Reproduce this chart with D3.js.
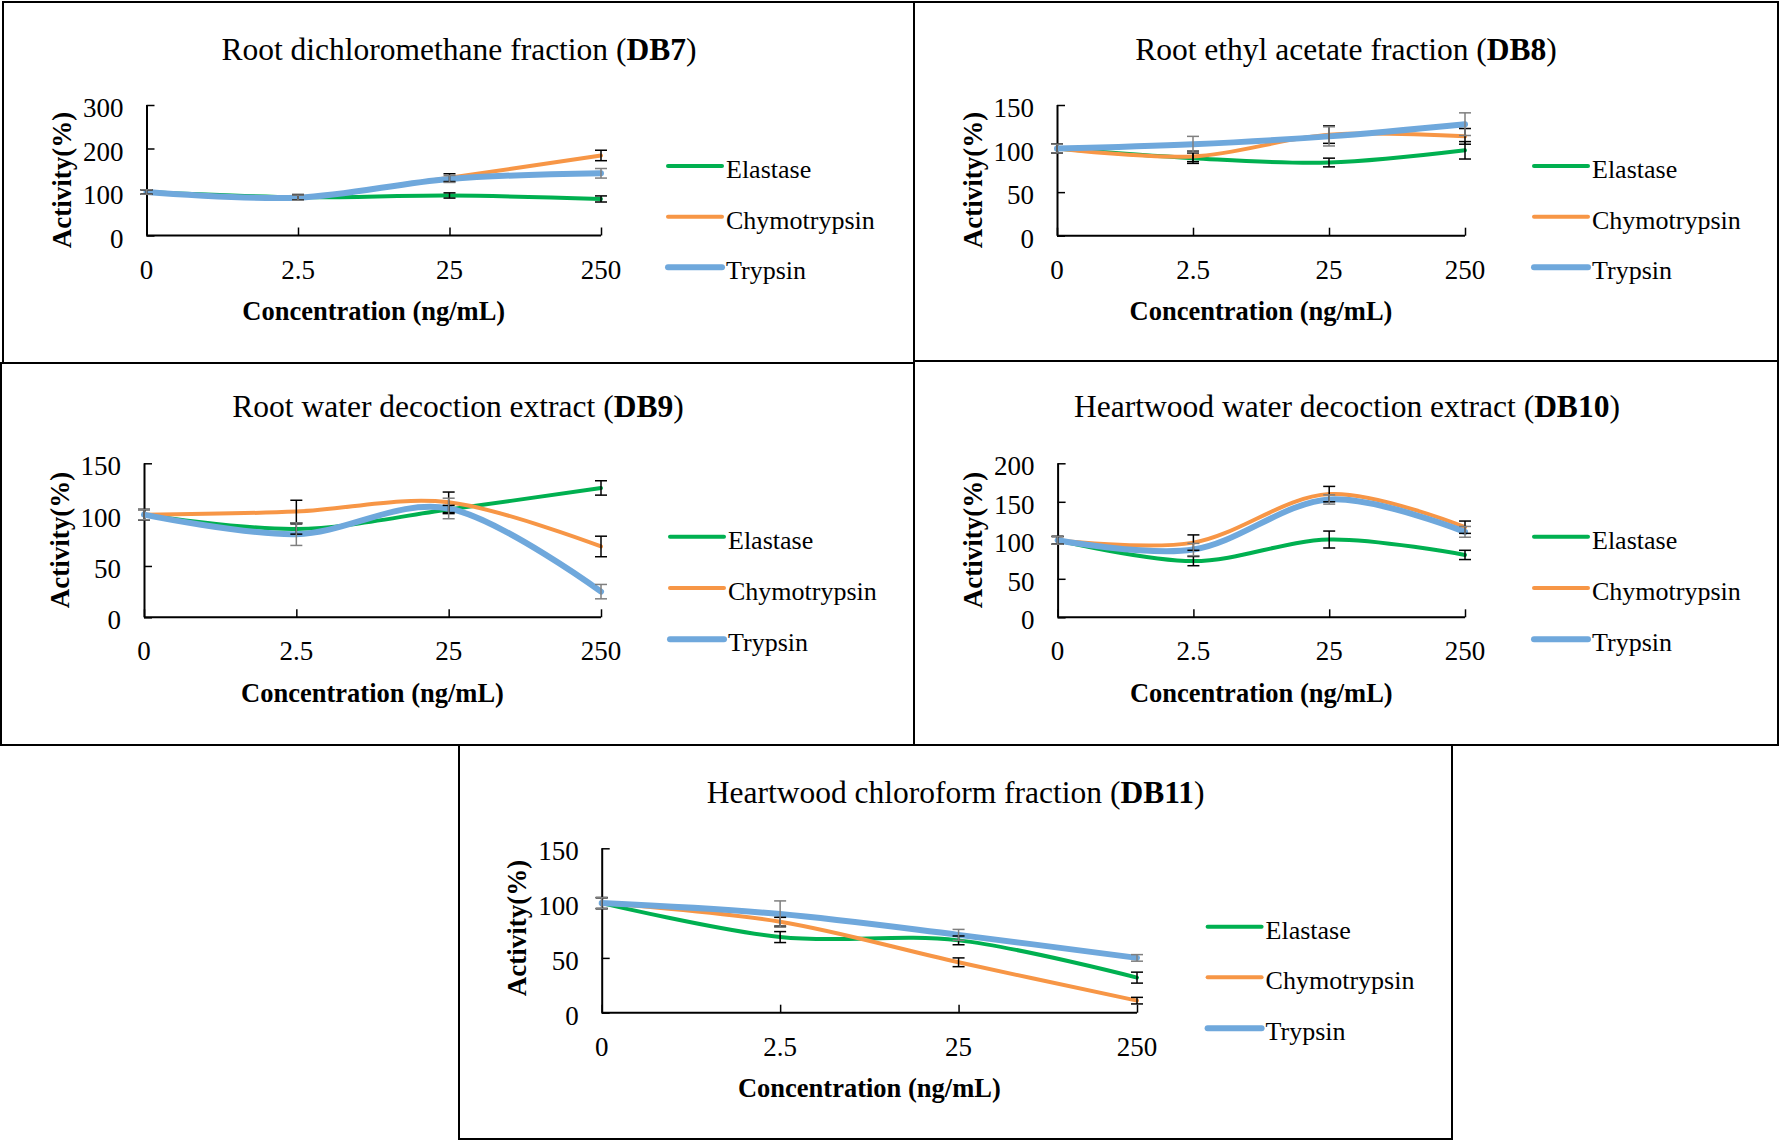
<!DOCTYPE html>
<html>
<head>
<meta charset="utf-8">
<script src="https://cdn.jsdelivr.net/npm/d3@7/dist/d3.min.js"></script>
<style>
  html, body { margin: 0; padding: 0; background: #fff; }
  svg { display: block; }
  text { font-family: "Liberation Serif", "Times New Roman", serif; fill: #000; }
</style>
</head>
<body>
<svg id="chart" width="1780" height="1141"></svg>
<script>
// ---------------- data ----------------
const concentrations = ["0", "2.5", "25", "250"];
const seriesNames = ["Elastase", "Chymotrypsin", "Trypsin"];

const panelTitles = [
  "Root dichloromethane fraction",
  "Root ethyl acetate fraction",
  "Root water decoction extract",
  "Heartwood water decoction extract",
  "Heartwood chloroform fraction"
];
const panelCodes = ["DB7", "DB8", "DB9", "DB10", "DB11"];
const xAxisTitle = "Concentration (ng/mL)";
const yAxisTitle = "Activity(%)";

const yTicksDB7 = [0, 100, 200, 300];
const yTicksDB8 = [0, 50, 100, 150];
const yTicksDB9 = [0, 50, 100, 150];
const yTicksDB10 = [0, 50, 100, 150, 200];
const yTicksDB11 = [0, 50, 100, 150];

// values (activity %) per series: Elastase, Chymotrypsin, Trypsin
const elastaseDB7 = [100, 88, 92, 84];
const chymotrypsinDB7 = [100, 88, 133, 184];
const trypsinDB7 = [100, 87, 130, 143];
const elastaseErrDB7 = [5, 6, 6, 7];
const chymotrypsinErrDB7 = [5, 6, 9, 12];
const trypsinErrDB7 = [5, 6, 8, 11];

const elastaseDB8 = [100, 89, 84, 98];
const chymotrypsinDB8 = [100, 91, 116, 114];
const trypsinDB8 = [100, 105, 114, 128];
const elastaseErrDB8 = [5, 6, 5, 10];
const chymotrypsinErrDB8 = [5, 6, 10, 9];
const trypsinErrDB8 = [5, 9, 11, 13];

const elastaseDB9 = [100, 86, 105, 126];
const chymotrypsinDB9 = [100, 103, 112, 69];
const trypsinDB9 = [100, 81, 106, 25];
const elastaseErrDB9 = [5, 5, 4, 7];
const chymotrypsinErrDB9 = [5, 11, 10, 10];
const trypsinErrDB9 = [5, 11, 10, 7];

const elastaseDB10 = [100, 73, 101, 81];
const chymotrypsinDB10 = [100, 97, 160, 117];
const trypsinDB10 = [100, 88, 153, 111];
const elastaseErrDB10 = [5, 6, 11, 6];
const chymotrypsinErrDB10 = [5, 10, 10, 8];
const trypsinErrDB10 = [5, 8, 6, 7];

const elastaseDB11 = [100, 69, 66, 32];
const chymotrypsinDB11 = [100, 83, 46, 11];
const trypsinDB11 = [100, 90, 71, 50];
const elastaseErrDB11 = [5, 5, 4, 5];
const chymotrypsinErrDB11 = [5, 4, 4, 3];
const trypsinErrDB11 = [5, 12, 5, 3];

// ---------------- styles ----------------
const seriesColors = ["#00b050", "#f79646", "#6fa8dc"];
const seriesWidths = [4, 4, 6];
const errColors = ["#000000", "#000000", "#7f7f7f"];

const panelData = [
  { yTicks: yTicksDB7, vals: [elastaseDB7, chymotrypsinDB7, trypsinDB7], errs: [elastaseErrDB7, chymotrypsinErrDB7, trypsinErrDB7] },
  { yTicks: yTicksDB8, vals: [elastaseDB8, chymotrypsinDB8, trypsinDB8], errs: [elastaseErrDB8, chymotrypsinErrDB8, trypsinErrDB8] },
  { yTicks: yTicksDB9, vals: [elastaseDB9, chymotrypsinDB9, trypsinDB9], errs: [elastaseErrDB9, chymotrypsinErrDB9, trypsinErrDB9] },
  { yTicks: yTicksDB10, vals: [elastaseDB10, chymotrypsinDB10, trypsinDB10], errs: [elastaseErrDB10, chymotrypsinErrDB10, trypsinErrDB10] },
  { yTicks: yTicksDB11, vals: [elastaseDB11, chymotrypsinDB11, trypsinDB11], errs: [elastaseErrDB11, chymotrypsinErrDB11, trypsinErrDB11] }
];

// layout per panel
const layouts = [
  { box: [3, 2, 914, 363], x0: 146.5, x1: 601, yTop: 105, yBot: 235.5, titleX: 459, titleY: 60, legX: 668, legY: [166, 216.7, 267.3], yTitleY: 180 },
  { box: [914, 2, 1778, 361], x0: 1057, x1: 1465, yTop: 105, yBot: 235.7, titleX: 1346, titleY: 60, legX: 1534, legY: [166, 216.7, 267.3], yTitleY: 180 },
  { box: [1, 363, 914, 745], x0: 144, x1: 601, yTop: 463.3, yBot: 617.3, titleX: 458, titleY: 417, legX: 670, legY: [536.7, 588, 639.3], yTitleY: 540 },
  { box: [914, 361, 1778, 745], x0: 1057.6, x1: 1465, yTop: 463.3, yBot: 617.3, titleX: 1347, titleY: 417, legX: 1534, legY: [536.7, 588, 639.3], yTitleY: 540 },
  { box: [459, 745, 1452, 1139], x0: 601.7, x1: 1137, yTop: 848.3, yBot: 1012.7, titleX: 955.6, titleY: 803, legX: 1207.6, legY: [926.7, 977.3, 1028.3], yTitleY: 928 }
];

const svg = d3.select("#chart");
svg.append("rect").attr("width", 1780).attr("height", 1141).attr("fill", "#fff");

const line = d3.line().curve(d3.curveCardinal.tension(0));

panelData.forEach((pd, pi) => {
  const L = layouts[pi];
  const g = svg.append("g");

  const x = d3.scalePoint().domain(concentrations).range([L.x0, L.x1]);
  const y = d3.scaleLinear().domain([0, d3.max(pd.yTicks)]).range([L.yBot, L.yTop]);

  // title
  const t = g.append("text")
    .attr("x", L.titleX).attr("y", L.titleY)
    .attr("text-anchor", "middle")
    .attr("font-size", 31.5);
  t.append("tspan").text(panelTitles[pi] + " (");
  t.append("tspan").attr("font-weight", "bold").text(panelCodes[pi]);
  t.append("tspan").text(")");

  // y axis
  const yAxis = d3.axisRight(y).tickValues(pd.yTicks).tickSize(8).tickFormat("");
  const ya = g.append("g").attr("transform", `translate(${L.x0},0)`).call(yAxis);
  ya.select(".domain").attr("stroke", "#000").attr("stroke-width", 2).attr("d", `M0.5,${L.yTop}V${L.yBot}`);
  ya.selectAll(".tick line").attr("stroke", "#000").attr("stroke-width", 1.5);
  pd.yTicks.forEach(v => {
    g.append("text")
      .attr("x", L.x0 - 23).attr("y", y(v) + 12)
      .attr("text-anchor", "end")
      .attr("font-size", 27)
      .text(v);
  });

  // x axis
  const xAxis = d3.axisTop(x).tickSize(8).tickFormat("");
  const xa = g.append("g").attr("transform", `translate(0,${L.yBot})`).call(xAxis);
  xa.select(".domain").attr("stroke", "#000").attr("stroke-width", 2).attr("d", `M${L.x0},0H${L.x1}`);
  xa.selectAll(".tick line").attr("stroke", "#000").attr("stroke-width", 1.5);
  concentrations.forEach(c => {
    g.append("text")
      .attr("x", x(c)).attr("y", L.yBot + 43)
      .attr("text-anchor", "middle")
      .attr("font-size", 27)
      .text(c);
  });

  // axis titles
  g.append("text")
    .attr("x", (L.x0 + L.x1) / 2).attr("y", L.yBot + 84.5)
    .attr("text-anchor", "middle")
    .attr("font-size", 26.5).attr("font-weight", "bold")
    .text(xAxisTitle);
  g.append("text")
    .attr("transform", `translate(${L.x0 - 84},${L.yTitleY}) rotate(-90)`)
    .attr("text-anchor", "middle")
    .attr("dy", "0.32em")
    .attr("font-size", 27).attr("font-weight", "bold")
    .text(yAxisTitle);

  // series
  seriesNames.forEach((s, si) => {
    const pts = concentrations.map((c, i) => [x(c), y(pd.vals[si][i])]);
    g.append("path")
      .attr("d", line(pts))
      .attr("fill", "none")
      .attr("stroke", seriesColors[si])
      .attr("stroke-width", seriesWidths[si])
      .attr("stroke-linecap", "round")
      .attr("stroke-linejoin", "round");
  });
  seriesNames.forEach((s, si) => {
    concentrations.forEach((c, i) => {
      const v = pd.vals[si][i], e = pd.errs[si][i];
      const cx = x(c), yt = y(v + e), yb = y(v - e);
      const eg = g.append("g").attr("stroke", errColors[si]).attr("stroke-width", 1.5);
      eg.append("line").attr("x1", cx).attr("x2", cx).attr("y1", yt).attr("y2", yb);
      eg.append("line").attr("x1", cx - 6).attr("x2", cx + 6).attr("y1", yt).attr("y2", yt);
      eg.append("line").attr("x1", cx - 6).attr("x2", cx + 6).attr("y1", yb).attr("y2", yb);
    });
  });

  // legend
  seriesNames.forEach((s, si) => {
    const ly = L.legY[si];
    g.append("line")
      .attr("x1", L.legX).attr("x2", L.legX + 54)
      .attr("y1", ly).attr("y2", ly)
      .attr("stroke", seriesColors[si])
      .attr("stroke-width", seriesWidths[si])
      .attr("stroke-linecap", "round");
    g.append("text")
      .attr("x", L.legX + 58).attr("y", ly + 12)
      .attr("font-size", 26)
      .text(s);
  });

  // panel border
  const b = L.box;
  g.append("rect")
    .attr("x", b[0]).attr("y", b[1])
    .attr("width", b[2] - b[0]).attr("height", b[3] - b[1])
    .attr("fill", "none").attr("stroke", "#000").attr("stroke-width", 2);
});
</script>
</body>
</html>
